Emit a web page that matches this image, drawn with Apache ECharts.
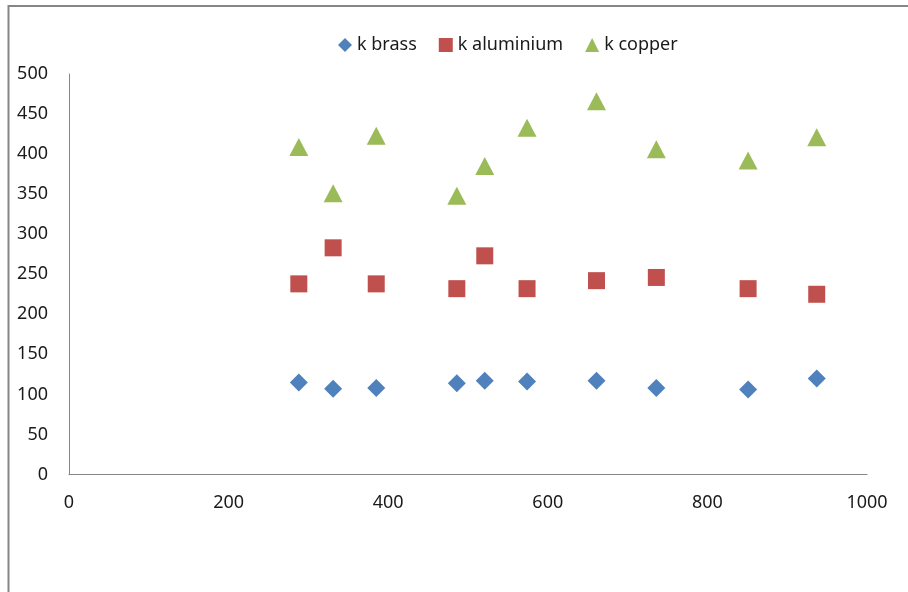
<!DOCTYPE html>
<html>
<head>
<meta charset="utf-8">
<script src="https://cdn.jsdelivr.net/npm/echarts@6/dist/echarts.min.js"></script>
<style>
html,body{margin:0;padding:0;background:#fff;}
#chart{width:908px;height:592px;}
</style>
</head>
<body>
<div id="chart"></div>
<script>
const xValues = [288, 331, 385, 486, 521, 574, 661, 736, 851, 937];
const kBrass = [115, 107, 108, 114, 117, 116, 117, 108, 106, 120];
const kAluminium = [238, 283, 238, 232, 273, 232, 242, 246, 232, 225];
const kCopper = [409, 351, 423, 348, 385, 433, 466, 406, 392, 421];
const seriesNames = ['k brass', 'k aluminium', 'k copper'];
const xTicks = {min: 0, max: 1000, interval: 200};
const yTicks = {min: 0, max: 500, interval: 50};

const pairs = ys => xValues.map((x, i) => [x, ys[i]]);
const FONT = 'Noto Sans';
const chart = echarts.init(document.getElementById('chart'), null, {renderer: 'canvas'});
chart.setOption({
  animation: false,
  backgroundColor: '#ffffff',
  graphic: [{
    type: 'rect',
    shape: {x: 8.5, y: 6, width: 1000, height: 1000},
    style: {fill: 'none', stroke: '#868686', lineWidth: 2},
    silent: true
  }],
  legend: {
    left: 338, top: 36, padding: 0,
    itemWidth: 14, itemHeight: 14, itemGap: 22,
    textStyle: {fontFamily: FONT, fontSize: 18, color: '#1a1a1a'},
    data: seriesNames
  },
  grid: {left: 69, right: 41, top: 74, bottom: 117.5, containLabel: false},
  xAxis: {
    type: 'value', min: xTicks.min, max: xTicks.max, interval: xTicks.interval,
    axisLine: {show: true, onZero: false, lineStyle: {color: '#868686', width: 1}},
    axisTick: {show: false},
    splitLine: {show: false},
    axisLabel: {fontFamily: FONT, fontSize: 18, color: '#1a1a1a', margin: 19,
      formatter: v => String(v)}
  },
  yAxis: {
    type: 'value', min: yTicks.min, max: yTicks.max, interval: yTicks.interval,
    axisLine: {show: true, onZero: false, lineStyle: {color: '#868686', width: 1}},
    axisTick: {show: false},
    splitLine: {show: false},
    axisLabel: {fontFamily: FONT, fontSize: 18, color: '#1a1a1a', margin: 21,
      formatter: v => String(v)}
  },
  series: [
    {name: seriesNames[0], type: 'scatter', symbol: 'diamond', symbolSize: [18, 18],
     itemStyle: {color: '#4F81BD', opacity: 1}, data: pairs(kBrass)},
    {name: seriesNames[1], type: 'scatter', symbol: 'rect', symbolSize: [17, 17],
     itemStyle: {color: '#C0504D', opacity: 1}, data: pairs(kAluminium)},
    {name: seriesNames[2], type: 'scatter', symbol: 'triangle', symbolSize: [19, 18],
     itemStyle: {color: '#9BBB59', opacity: 1}, data: pairs(kCopper)}
  ]
});
</script>
</body>
</html>
